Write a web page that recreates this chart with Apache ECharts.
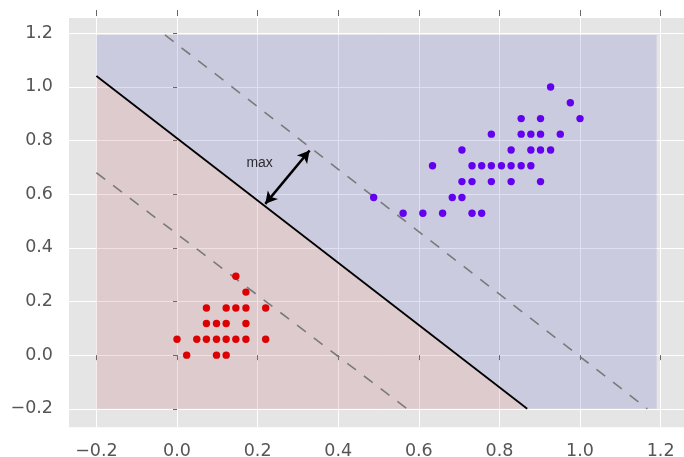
<!DOCTYPE html>
<html>
<head>
<meta charset="utf-8">
<script src="https://cdn.jsdelivr.net/npm/echarts@6/dist/echarts.min.js"></script>
<style>
html,body{margin:0;padding:0;background:#fff;}
#chart{width:684px;height:457px;}
</style>
</head>
<body>
<div id="chart"></div>
<script>
// ---- data ----
const xTicks = [-0.2, 0.0, 0.2, 0.4, 0.6, 0.8, 1.0, 1.2];
const yTicks = [-0.2, 0.0, 0.2, 0.4, 0.6, 0.8, 1.0, 1.2];

const redPoints = [
  [0.146, 0.294],
  [0.171, 0.235],
  [0.073, 0.176], [0.122, 0.176], [0.146, 0.176], [0.171, 0.176], [0.220, 0.176],
  [0.073, 0.118], [0.098, 0.118], [0.122, 0.118], [0.171, 0.118],
  [0.000, 0.059], [0.049, 0.059], [0.073, 0.059], [0.098, 0.059], [0.122, 0.059], [0.146, 0.059], [0.171, 0.059], [0.220, 0.059],
  [0.024, 0.000], [0.098, 0.000], [0.122, 0.000]
];

const purplePoints = [
  [0.927, 1.000],
  [0.976, 0.941],
  [0.854, 0.882], [0.902, 0.882], [1.000, 0.882],
  [0.780, 0.824], [0.854, 0.824], [0.878, 0.824], [0.902, 0.824], [0.951, 0.824],
  [0.707, 0.765], [0.829, 0.765], [0.878, 0.765], [0.902, 0.765], [0.927, 0.765],
  [0.634, 0.706], [0.732, 0.706], [0.756, 0.706], [0.780, 0.706], [0.805, 0.706], [0.829, 0.706], [0.854, 0.706], [0.878, 0.706],
  [0.707, 0.647], [0.732, 0.647], [0.780, 0.647], [0.829, 0.647], [0.902, 0.647],
  [0.488, 0.588], [0.683, 0.588], [0.707, 0.588],
  [0.561, 0.529], [0.610, 0.529], [0.659, 0.529], [0.732, 0.529], [0.756, 0.529]
];

const decisionLine = [[-0.2, 1.041], [0.869, -0.2]];
const marginUpper = [[-0.03, 1.194], [1.167, -0.2]];
const marginLower = [[-0.2, 0.680], [0.571, -0.2]];

const redRegion = [[-0.2, -0.2], [-0.2, 1.041], [0.869, -0.2]];
const blueRegion = [[-0.2, 1.041], [-0.2, 1.194], [1.19, 1.194], [1.19, -0.2], [0.869, -0.2]];
const regions = [redRegion, blueRegion];
const regionColors = ['rgba(194,99,114,0.2)', 'rgba(100,100,200,0.2)'];

const arrowStart = [0.219, 0.564];
const arrowEnd = [0.329, 0.763];
const annotation = [[0.205, 0.717]];
const annotationText = 'max';

// ---- chart ----
const fmt = v => (v < 0 ? '\u2212' : '') + Math.abs(v).toFixed(1);
const chart = echarts.init(document.getElementById('chart'), null, {renderer: 'canvas'});

chart.setOption({
  animation: false,
  backgroundColor: '#ffffff',
  grid: {left: 69, right: 0, top: 18, bottom: 29.7, containLabel: false,
         outerBoundsMode: 'none',
         show: true, backgroundColor: '#e5e5e5', borderWidth: 0},
  xAxis: [{
    type: 'value', min: -0.268, max: 1.258, offset: 2.7,
    axisLine: {show: false},
    axisTick: {show: true, length: 5, customValues: xTicks, lineStyle: {color: '#666', width: 1}},
    axisLabel: {customValues: xTicks, formatter: fmt, color: '#555', fontSize: 17.5,
                fontFamily: 'DejaVu Sans', margin: 12},
    splitLine: {show: true, lineStyle: {color: '#ffffff', width: 1}}
  }, {
    type: 'value', position: 'top', min: -0.268, max: 1.258, offset: 2,
    axisLine: {show: false},
    axisTick: {show: true, length: 6, customValues: xTicks, lineStyle: {color: '#666', width: 1}},
    axisLabel: {show: false},
    splitLine: {show: false}
  }],
  yAxis: [{
    type: 'value', min: -0.269, max: 1.257, offset: 3,
    axisLine: {show: false},
    axisTick: {show: true, length: 4, customValues: yTicks, lineStyle: {color: '#666', width: 1}},
    axisLabel: {customValues: yTicks, formatter: fmt, color: '#555', fontSize: 17.5,
                fontFamily: 'DejaVu Sans', margin: 13},
    splitLine: {show: true, lineStyle: {color: '#ffffff', width: 1}}
  }],
  series: [
    {
      type: 'custom', z: 1, clip: false,
      data: regions.map(r => r[0]),
      renderItem: function (params, api) {
        const pts = regions[params.dataIndex].map(p => api.coord(p));
        return {type: 'polygon', shape: {points: pts},
                style: {fill: regionColors[params.dataIndex]}};
      },
      silent: true
    },
    {
      type: 'line', z: 3, data: marginUpper, symbol: 'none', silent: true,
      lineStyle: {color: '#7a7a7a', width: 1.6, type: [11, 10]}
    },
    {
      type: 'line', z: 3, data: marginLower, symbol: 'none', silent: true,
      lineStyle: {color: '#7a7a7a', width: 1.6, type: [11, 10]}
    },
    {
      type: 'line', z: 3, data: decisionLine, symbol: 'none', silent: true,
      lineStyle: {color: '#000000', width: 1.8},
      markLine: {
        silent: true, symbol: ['arrow', 'arrow'], symbolSize: [10, 12],
        lineStyle: {color: '#000000', width: 2.5, type: 'solid'},
        label: {show: false},
        data: [[{coord: arrowStart}, {coord: arrowEnd}]]
      }
    },
    {
      type: 'scatter', z: 4, data: redPoints, symbolSize: 7.4,
      itemStyle: {color: '#dd0000', opacity: 1}
    },
    {
      type: 'scatter', z: 4, data: purplePoints, symbolSize: 7.4,
      itemStyle: {color: '#6400f0', opacity: 1}
    },
    {
      type: 'scatter', z: 5, data: annotation, symbolSize: 0, silent: true,
      label: {show: true, position: 'inside', formatter: annotationText,
              color: '#000', fontSize: 14, fontFamily: 'Liberation Sans'}
    }
  ]
});
</script>
</body>
</html>
